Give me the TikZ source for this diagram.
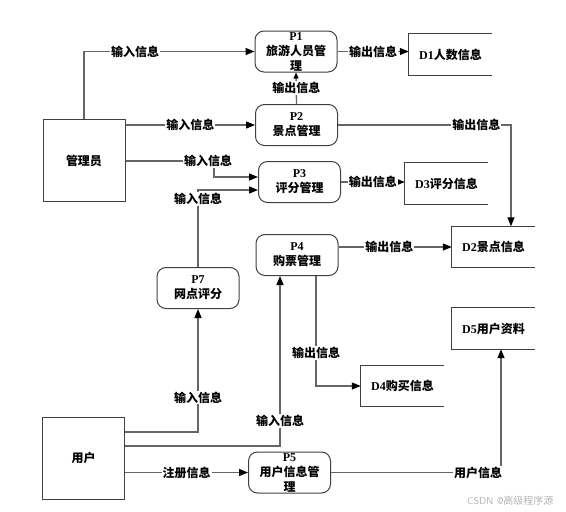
\documentclass[tikz,border=0pt]{standalone}
\usepackage{fontspec}
\setmainfont{Liberation Serif}
\newfontfamily\cjk{Noto Sans CJK SC}
\newcommand\zh[1]{{\cjk #1}}
\usepackage{tikz}
\usetikzlibrary{arrows.meta}

\begin{document}
\begin{tikzpicture}[x=1pt,y=-1pt,font=\fontsize{12}{15}\selectfont\bfseries]
\tikzstyle{every node}+=[inner sep=0pt]
\tikzstyle{proc}=[draw=black!75,line width=1pt,rounded corners=9pt,minimum width=82pt,minimum height=41pt,align=center]
\tikzstyle{ent}=[draw=black!75,line width=1pt,minimum width=82pt,minimum height=82pt]
\tikzstyle{store}=[minimum width=83pt,minimum height=41pt]
\tikzstyle{lbl}=[fill=white,inner sep=1pt]
\tikzstyle{flow}=[draw=black!60,line width=1.3pt,-{Triangle[black,length=9pt,width=7pt]}]
\useasboundingbox (0,0) rectangle (566,512);
% external entities
\node [ent] (adm) at (84,160.5) {\zh{管理员}};
\node [ent] (usr) at (83.5,458) {\zh{用户}};
% processes
\node [proc] (p1) at (296,51.5) {};
\node [align=center] at (p1) {P1\\\zh{旅游人员管}\\\zh{理}};
\node [proc] (p2) at (296.5,125) {P2\\\zh{景点管理}};
\node [proc] (p3) at (299.5,182) {P3\\\zh{评分管理}};
\node [proc] (p4) at (297,255) {P4\\\zh{购票管理}};
\node [proc] (p7) at (198,288) {P7\\\zh{网点评分}};
\node [proc] (p5) at (289.5,472.5) {};
\node [align=center] at (p5) {P5\\\zh{用户信息管}\\\zh{理}};
% data stores
\node [store] (d1) at (450.5,54.5) {D1\zh{人数信息}};
\node [store] (d3) at (446.5,183.5) {D3\zh{评分信息}};
\node [store] (d2) at (493.5,247) {D2\zh{景点信息}};
\node [store] (d5) at (493.5,328.5) {D5\zh{用户资料}};
\node [store] (d4) at (402.5,386) {D4\zh{购买信息}};
\foreach \d in {d1,d2,d3,d4,d5}
  \draw [black!75,line width=1pt] (\d.north east) -- (\d.north west) -- (\d.south west) -- (\d.south east);
% flows
\draw [flow] (adm.north) |- (p1.west) node [lbl,pos=0.65] {\zh{输入信息}};
\draw [flow] (adm.east |- p2.west) -- (p2.west) node [lbl,midway] {\zh{输入信息}};
\draw [flow] (adm.east |- 0,161) -| (214,177) -- (p3.west |- 0,177);
\node [lbl] (l3) at (208,161) {\zh{输入信息}};
\draw [flow] (p7.north) |- (p3.west |- 0,190) node [lbl,pos=0.44] {\zh{输入信息}};
\draw [flow,-{Triangle[black,length=6pt,width=5pt]}] (p2.north) -- (p1.south) node [lbl,midway] {\zh{输出信息}};
\draw [flow] (p1.east) -- (d1.west |- p1.east) node [lbl,midway] {\zh{输出信息}};
\draw [flow] (p2.east) -| ([xshift=17.5pt]d2.north) node [lbl,pos=0.4] {\zh{输出信息}};
\draw [flow] (p3.east) -- (d3.west |- p3.east) node [lbl,midway] {\zh{输出信息}};
\draw [flow] (p4.east |- d2.west) -- (d2.west) node [lbl,pos=0.45] {\zh{输出信息}};
\draw [flow] ([xshift=19pt]p4.south) |- (d4.west) node [lbl,pos=0.35] {\zh{输出信息}};
\draw [flow] (usr.east |- 0,432) -| (p7.south) node [lbl,pos=0.64] {\zh{输入信息}};
\draw [flow] (usr.east |- 0,446) -| ([xshift=-17pt]p4.south) node [lbl,pos=0.574] {\zh{输入信息}};
\draw [flow] (usr.east |- p5.west) -- (p5.west) node [lbl,midway] {\zh{注册信息}};
\draw [flow] (p5.east) -| ([xshift=7.5pt]d5.south) node [lbl,pos=0.433] {\zh{用户信息}};
% watermark
\node [text=black!30,font=\fontsize{10}{12}\selectfont\sffamily,anchor=west] (wm) at (467,501) {CSDN @\zh{高级程序源}};
\end{tikzpicture}
\end{document}
